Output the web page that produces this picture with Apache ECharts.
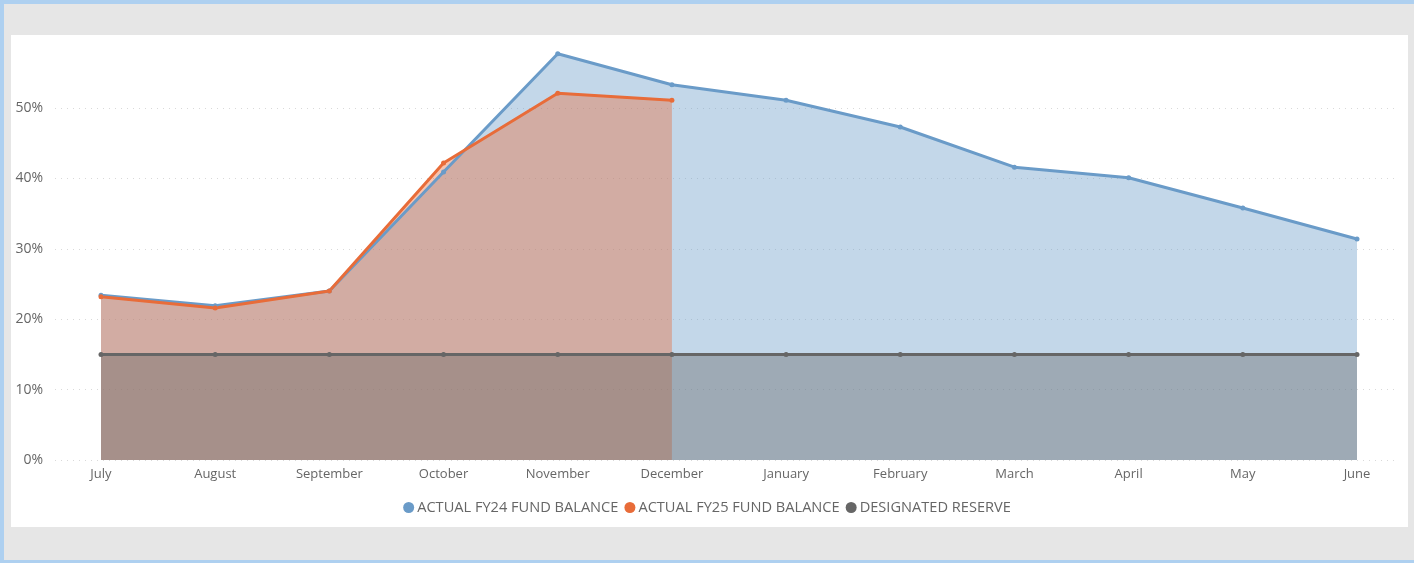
<!DOCTYPE html>
<html>
<head>
<meta charset="utf-8">
<script src="https://cdn.jsdelivr.net/npm/echarts@6/dist/echarts.min.js"></script>
<style>
  html, body { margin: 0; padding: 0; }
  body {
    width: 1414px; height: 563px; position: relative; overflow: hidden;
    background: #e6e6e6;
  }
  #frameTop { position: absolute; left: 0; top: 0; width: 1414px; height: 4px; background: #aed0f0; }
  #frameLeft { position: absolute; left: 0; top: 0; width: 4px; height: 563px; background: #aed0f0; }
  #frameBottom { position: absolute; left: 0; top: 560px; width: 1414px; height: 3px; background: #aed0f0; }
  #panel { position: absolute; left: 11px; top: 35px; width: 1397px; height: 492px; background: #fff; }
  #chart { position: absolute; left: 0; top: 0; width: 1414px; height: 563px; }
</style>
</head>
<body>
<div id="frameTop"></div>
<div id="frameLeft"></div>
<div id="frameBottom"></div>
<div id="panel"></div>
<div id="chart"></div>
<script>
var months = ['July', 'August', 'September', 'October', 'November', 'December',
    'January', 'February', 'March', 'April', 'May', 'June'];
var fy24 = [23.4, 21.9, 24.0, 40.9, 57.7, 53.3, 51.1, 47.3, 41.6, 40.1, 35.8, 31.4];
var fy25 = [23.2, 21.6, 24.0, 42.2, 52.1, 51.1];
var reserve = [15, 15, 15, 15, 15, 15, 15, 15, 15, 15, 15, 15];
var yTicks = [0, 10, 20, 30, 40, 50, 60];

var font = '"Open Sans", "Noto Sans", sans-serif';
var chart = echarts.init(document.getElementById('chart'));

function lineSeries(name, data, color, opacity) {
    return {
        name: name,
        type: 'line',
        xAxisIndex: 1,
        yAxisIndex: 1,
        data: data,
        symbol: 'circle',
        symbolSize: 5,
        showSymbol: true,
        lineStyle: { color: color, width: 3 },
        itemStyle: { color: color },
        areaStyle: { color: color, opacity: opacity },
        emphasis: { disabled: true },
        animation: false
    };
}

chart.setOption({
    backgroundColor: 'transparent',
    textStyle: { fontFamily: font },
    grid: [
        // background grid: wider, carries the y labels and dotted lines
        { left: 55, right: 16, top: 37.6, bottom: 103 },
        // data grid
        { left: 101, right: 57, top: 37.6, bottom: 103 }
    ],
    legend: {
        top: 495,
        left: 'center',
        itemWidth: 11,
        itemHeight: 11,
        itemGap: 6,
        icon: 'circle',
        textStyle: { fontFamily: font, fontSize: 14.6, color: '#666', padding: [0, 0, 0, -2] },
        data: ['ACTUAL FY24 FUND BALANCE', 'ACTUAL FY25 FUND BALANCE', 'DESIGNATED RESERVE']
    },
    xAxis: [
        { type: 'category', gridIndex: 0, data: months, show: false },
        {
            type: 'category', gridIndex: 1, data: months, boundaryGap: false,
            axisLine: { show: false }, axisTick: { show: false },
            axisLabel: { color: '#666', fontSize: 13, margin: 8, interval: 0, fontFamily: font }
        }
    ],
    yAxis: [
        {
            type: 'value', gridIndex: 0, min: yTicks[0], max: yTicks[yTicks.length - 1], interval: 10,
            axisLine: { show: false }, axisTick: { show: false },
            axisLabel: { color: '#666', fontSize: 14, margin: 12, showMaxLabel: false,
                formatter: '{value}%', fontFamily: font },
            splitLine: { show: true, showMaxLine: false,
                lineStyle: { color: '#d9d9d9', type: [1, 5], width: 1 } }
        },
        {
            type: 'value', gridIndex: 1, min: yTicks[0], max: yTicks[yTicks.length - 1], interval: 10,
            show: false, splitLine: { show: false }
        }
    ],
    series: [
        lineSeries('ACTUAL FY24 FUND BALANCE', fy24, '#6a9bc8', 0.4),
        lineSeries('ACTUAL FY25 FUND BALANCE', fy25, '#e86c39', 0.4),
        lineSeries('DESIGNATED RESERVE', reserve, '#666666', 0.4)
    ]
});
</script>
</body>
</html>
